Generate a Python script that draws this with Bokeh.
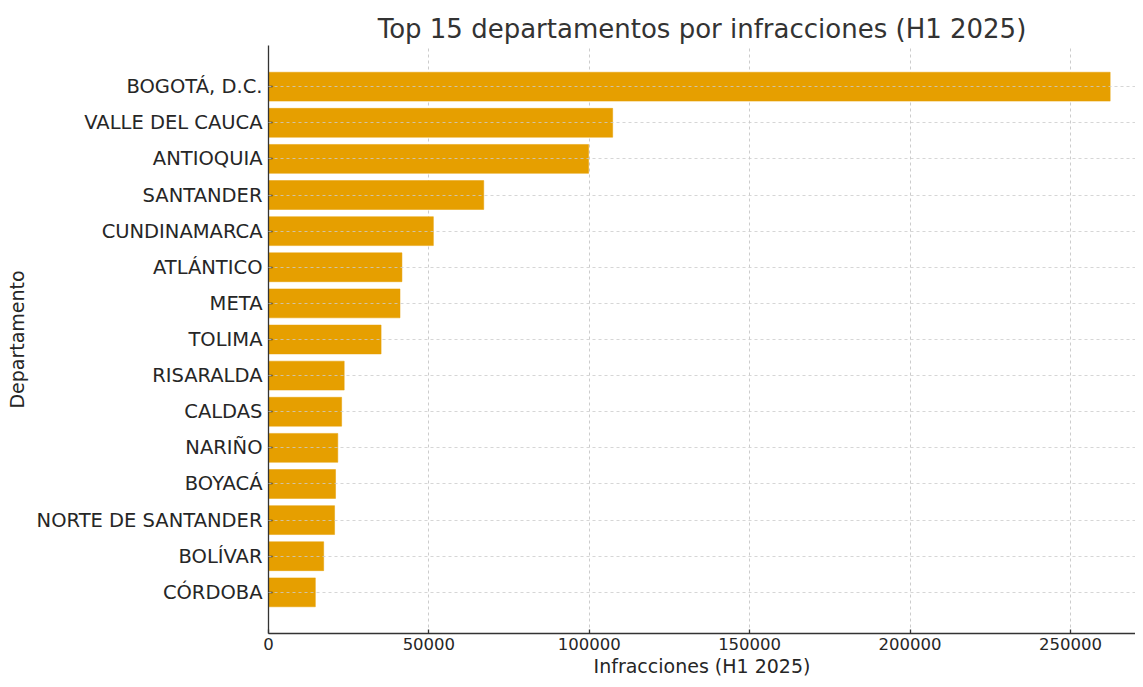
from bokeh.plotting import figure
from bokeh.models import Range1d, FixedTicker, ColumnDataSource
from bokeh.embed import file_html
from bokeh.resources import INLINE

departamentos = [
    "BOGOTÁ, D.C.", "VALLE DEL CAUCA", "ANTIOQUIA", "SANTANDER", "CUNDINAMARCA",
    "ATLÁNTICO", "META", "TOLIMA", "RISARALDA", "CALDAS", "NARIÑO", "BOYACÁ",
    "NORTE DE SANTANDER", "BOLÍVAR", "CÓRDOBA",
]
infracciones = [
    262400, 107300, 99800, 67100, 51400,
    41600, 41000, 35100, 23600, 22800, 21600, 20900,
    20600, 17200, 14600,
]
x_ticks = [0, 50000, 100000, 150000, 200000, 250000]

n = len(departamentos)
pos = [n - 1 - i for i in range(n)]
src = ColumnDataSource(dict(y=pos, v=infracciones, name=departamentos))

FONT = "DejaVu Sans"
TXT = "#262626"

p = figure(
    width=1135, height=679,
    output_backend="svg", toolbar_location=None,
    x_range=Range1d(0, 270300), y_range=Range1d(-1.14, n - 1 + 1.14),
    title="Top 15 departamentos por infracciones (H1 2025)",
    min_border_left=268, min_border_right=0, min_border_top=45, min_border_bottom=43,
)
p.outline_line_color = None
p.background_fill_color = "white"
p.border_fill_color = "white"

p.hbar(y="y", right="v", left=0, height=0.8, source=src,
       fill_color="#E69F00", line_color="#E69F00", line_width=0.5)

p.title.text_font = FONT
p.title.text_font_size = "26px"
p.title.text_font_style = "normal"
p.title.text_color = "#333333"
p.title.align = "center"
p.title.standoff = 4
p.title.offset = 0

# axes
p.xaxis.ticker = FixedTicker(ticks=x_ticks)
p.yaxis.ticker = FixedTicker(ticks=pos)
p.yaxis.major_label_overrides = {pp: d for pp, d in zip(pos, departamentos)}
p.xaxis.formatter.use_scientific = False

for ax in (p.xaxis, p.yaxis):
    ax.axis_line_color = "#333333"
    ax.axis_line_width = 1.3
    ax.major_tick_in = 4
    ax.major_tick_out = 0
    ax.major_tick_line_color = "#333333"
    ax.major_tick_line_width = 1.3
    ax.minor_tick_line_color = None
    ax.major_label_text_font = FONT
    ax.major_label_text_color = TXT
    ax.axis_label_text_font = FONT
    ax.axis_label_text_font_style = "normal"
    ax.axis_label_text_color = TXT
    ax.axis_label_text_font_size = "19px"

p.xaxis.axis_label = "Infracciones (H1 2025)"
p.yaxis.axis_label = "Departamento"
p.xaxis.major_label_text_font_size = "16.5px"
p.yaxis.major_label_text_font_size = "19.5px"
p.xaxis.major_label_standoff = 4
p.yaxis.major_label_standoff = 6
p.xaxis.axis_label_standoff = 2
p.yaxis.axis_label_standoff = 6

p.xgrid.grid_line_color = "#cccccc"
p.xgrid.grid_line_dash = "3 3"
p.ygrid.grid_line_color = "#cccccc"
p.ygrid.grid_line_dash = "3 3"
p.ygrid.grid_line_alpha = 0.8
p.ygrid.level = "overlay"

open("out.html", "w").write(file_html(p, INLINE))
